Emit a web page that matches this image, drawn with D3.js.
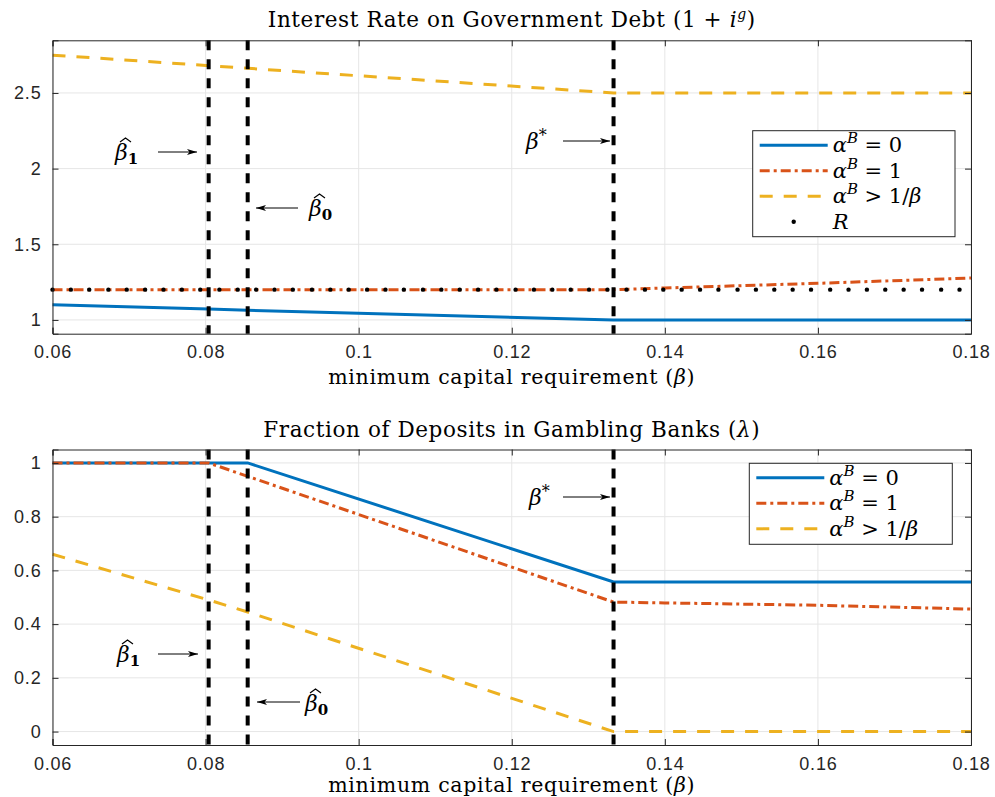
<!DOCTYPE html>
<html>
<head>
<meta charset="utf-8">
<script src="https://cdn.jsdelivr.net/npm/d3@7"></script>
<style>
  body { margin: 0; background: #fff; }
  svg { display: block; }
  .tick text { font-family: "Liberation Sans", Arial, sans-serif; font-size: 18px; letter-spacing: 0.8px; fill: #262626; }
  .serif { font-family: "DejaVu Serif", serif; fill: #000; }
</style>
</head>
<body>
<svg id="chart" width="995" height="797"></svg>
<script>
// thresholds
const betaHat1 = 0.0804;
const betaHat0 = 0.0855;
const betaStar = 0.1333;

const xTicks = [0.06, 0.08, 0.1, 0.12, 0.14, 0.16, 0.18];
const rateTicks = [1, 1.5, 2, 2.5];
const lambdaTicks = [0, 0.2, 0.4, 0.6, 0.8, 1];

// top panel: 1 + i^g
const rateA0Beta = [0.06, 0.0804, 0.0855, 0.1333, 0.18];
const rateA0 = [1.10, 1.072, 1.064, 1.0, 1.0];
const rateA1Beta = [0.06, 0.1333, 0.14, 0.16, 0.18];
const rateA1 = [1.2, 1.2, 1.211, 1.242, 1.277];
const rateBigBeta = [0.06, 0.1333, 0.18];
const rateBig = [2.75, 2.5, 2.5];
const rBeta = [0.0600, 0.0624, 0.0648, 0.0673, 0.0697, 0.0721, 0.0745, 0.0769, 0.0793, 0.0818,
  0.0842, 0.0866, 0.0890, 0.0914, 0.0939, 0.0963, 0.0987, 0.1011, 0.1035, 0.1059,
  0.1084, 0.1108, 0.1132, 0.1156, 0.1180, 0.1205, 0.1229, 0.1253, 0.1277, 0.1301,
  0.1325, 0.1350, 0.1374, 0.1398, 0.1422, 0.1446, 0.1470, 0.1495, 0.1519, 0.1543,
  0.1567, 0.1591, 0.1616, 0.1640, 0.1664, 0.1688, 0.1712, 0.1736, 0.1761, 0.1785];
const rValue = 1.2;

// bottom panel: lambda
const lamA0Beta = [0.06, 0.0855, 0.1333, 0.18];
const lamA0 = [1, 1, 0.557, 0.557];
const lamA1Beta = [0.06, 0.0804, 0.1333, 0.14, 0.16, 0.18];
const lamA1 = [1, 1, 0.482, 0.479, 0.470, 0.456];
const lamBigBeta = [0.06, 0.0804, 0.0855, 0.1333, 0.18];
const lamBig = [0.66, 0.49, 0.445, 0, 0];

const blue = "#0072BD", orange = "#D95319", yellow = "#EDB120";
const styles = {
  a0: { color: blue, dash: null },
  a1: { color: orange, dash: "10,4,3,4" },
  big: { color: yellow, dash: "13,11" }
};

const svg = d3.select("#chart");
svg.append("defs").append("marker")
  .attr("id", "arrow")
  .attr("viewBox", "0 0 10 6")
  .attr("refX", 10).attr("refY", 3)
  .attr("markerWidth", 10).attr("markerHeight", 6)
  .attr("markerUnits", "userSpaceOnUse")
  .attr("orient", "auto")
  .append("path").attr("d", "M0,0 L10,3 L0,6 L2.5,3 Z").attr("fill", "#000");

const x = d3.scaleLinear().domain([0.06, 0.18]).range([52.5, 971]);
const fmt = d => String(+d.toFixed(2));

// write text made of parts: {t, it, sup, sub, bold, size}
function rich(sel, parts, base) {
  let shift = 0;
  parts.forEach(p => {
    const want = p.sup ? -p.sup : p.sub ? p.sub : 0;
    const ts = sel.append("tspan").text(p.t).attr("dy", want - shift);
    shift = want;
    if (p.it) ts.attr("font-style", "italic");
    if (p.bold) ts.attr("font-weight", "bold");
    ts.attr("font-size", p.size || base);
  });
}

function hatBeta(g, px, py, sub) {
  const t = g.append("text").attr("class", "serif").attr("x", px).attr("y", py);
  rich(t, [{ t: "β", it: true }, { t: sub, bold: true, sub: 4, size: 15 }], 22);
  g.append("path")
    .attr("d", `M${px + 5},${py - 18} L${px + 10.5},${py - 22} L${px + 16},${py - 18}`)
    .attr("fill", "none").attr("stroke", "#000").attr("stroke-width", 1.2);
}

function starBeta(g, px, py) {
  const t = g.append("text").attr("class", "serif").attr("x", px).attr("y", py);
  rich(t, [{ t: "β", it: true }, { t: "*", sup: 8, size: 16 }], 22);
}

function arrow(g, x1, y1, x2, y2) {
  g.append("line").attr("x1", x1).attr("y1", y1).attr("x2", x2).attr("y2", y2)
    .attr("stroke", "#000").attr("stroke-width", 1).attr("marker-end", "url(#arrow)");
}

function panel(cfg) {
  const y = d3.scaleLinear().domain(cfg.yDomain).range([cfg.bottom, cfg.top]);
  const g = svg.append("g");
  const [xl, xr] = x.range();

  // grid
  g.append("g").selectAll("line").data(xTicks).join("line")
    .attr("x1", d => x(d)).attr("x2", d => x(d))
    .attr("y1", cfg.top).attr("y2", cfg.bottom)
    .attr("stroke", "#e6e6e6").attr("stroke-width", 1);
  g.append("g").selectAll("line").data(cfg.yTicks).join("line")
    .attr("x1", xl).attr("x2", xr)
    .attr("y1", d => y(d)).attr("y2", d => y(d))
    .attr("stroke", "#e6e6e6").attr("stroke-width", 1);

  // series
  const line = d3.line().x(d => x(d[0])).y(d => y(d[1]));
  cfg.series.forEach(s => {
    const st = styles[s.key];
    g.append("path")
      .datum(d3.zip(s.xs, s.ys))
      .attr("d", line)
      .attr("fill", "none")
      .attr("stroke", st.color)
      .attr("stroke-width", 3)
      .attr("stroke-dasharray", st.dash);
  });

  if (cfg.dots) {
    g.append("g").selectAll("circle").data(cfg.dots.xs).join("circle")
      .attr("cx", d => x(d)).attr("cy", y(cfg.dots.y)).attr("r", 2.2).attr("fill", "#000");
  }

  // threshold lines
  g.append("g").selectAll("line").data([betaHat1, betaHat0, betaStar]).join("line")
    .attr("x1", d => x(d)).attr("x2", d => x(d))
    .attr("y1", cfg.top).attr("y2", cfg.bottom)
    .attr("stroke", "#000").attr("stroke-width", 4).attr("stroke-dasharray", "10,9");

  // axes with inward ticks on all sides
  const axB = d3.axisBottom(x).tickValues(xTicks).tickFormat(fmt).tickSize(-6).tickPadding(12);
  const axT = d3.axisTop(x).tickValues(xTicks).tickFormat("").tickSize(-6);
  const axL = d3.axisLeft(y).tickValues(cfg.yTicks).tickFormat(fmt).tickSize(-6).tickPadding(11);
  const axR = d3.axisRight(y).tickValues(cfg.yTicks).tickFormat("").tickSize(-6);
  [[axB, `translate(0,${cfg.bottom})`], [axT, `translate(0,${cfg.top})`],
   [axL, `translate(${xl},0)`], [axR, `translate(${xr},0)`]].forEach(([ax, tr]) => {
    const a = g.append("g").attr("transform", tr).call(ax);
    a.select(".domain").attr("stroke", "#262626");
    a.selectAll(".tick line").attr("stroke", "#262626");
  });

  // title and x label
  const title = g.append("text").attr("class", "serif").attr("text-anchor", "middle")
    .attr("letter-spacing", 0.6)
    .attr("x", (xl + xr) / 2).attr("y", cfg.top - 13);
  rich(title, cfg.title, 21.5);
  const xlab = g.append("text").attr("class", "serif").attr("text-anchor", "middle")
    .attr("letter-spacing", 0.7)
    .attr("x", (xl + xr) / 2).attr("y", cfg.bottom + cfg.xlabGap);
  rich(xlab, [{ t: "minimum capital requirement (" }, { t: "β", it: true }, { t: ")" }], 20.5);

  // legend
  const L = cfg.legend;
  const lg = g.append("g");
  lg.append("rect").attr("x", L.x).attr("y", L.y).attr("width", L.w).attr("height", L.h)
    .attr("fill", "#fff").attr("stroke", "#262626").attr("stroke-width", 1);
  L.items.forEach((it, i) => {
    const cy = L.y + 14.5 + i * 25.5;
    if (it.key) {
      const st = styles[it.key];
      lg.append("line").attr("x1", L.x + 7).attr("x2", L.x + 75).attr("y1", cy).attr("y2", cy)
        .attr("stroke", st.color).attr("stroke-width", 3).attr("stroke-dasharray", st.dash);
    } else {
      lg.append("circle").attr("cx", L.x + 41).attr("cy", cy).attr("r", 2.2).attr("fill", "#000");
    }
    const t = lg.append("text").attr("class", "serif").attr("x", L.x + 80).attr("y", cy + 7);
    rich(t, it.label, 21);
  });

  // annotations
  cfg.notes(g, y);
}

const alphaLabel = rest => [{ t: "α", it: true }, { t: "B", it: true, sup: 9, size: 15 }, { t: rest }];
const legendItems = [
  { key: "a0", label: alphaLabel(" = 0") },
  { key: "a1", label: alphaLabel(" = 1") },
  { key: "big", label: [{ t: "α", it: true }, { t: "B", it: true, sup: 9, size: 15 }, { t: " > 1/" }, { t: "β", it: true }] }
];

panel({
  top: 40.3, bottom: 333.7, yDomain: [0.909, 2.848], yTicks: rateTicks, xlabGap: 50,
  title: [{ t: "Interest Rate on Government Debt (1 + " }, { t: "i", it: true }, { t: "g", it: true, sup: 8, size: 14 }, { t: ")" }],
  series: [
    { key: "a0", xs: rateA0Beta, ys: rateA0 },
    { key: "a1", xs: rateA1Beta, ys: rateA1 },
    { key: "big", xs: rateBigBeta, ys: rateBig }
  ],
  dots: { xs: rBeta, y: rValue },
  legend: { x: 752.7, y: 130.7, w: 202.3, h: 106, items: legendItems.concat([{ key: null, label: [{ t: "R", it: true }] }]) },
  notes: (g, y) => {
    hatBeta(g, 115, 160, "1");
    arrow(g, 158, 152, 197, 152);
    hatBeta(g, 309, 216, "0");
    arrow(g, 298, 208, 256, 208);
    starBeta(g, 526, 149);
    arrow(g, 563, 141, 610, 141);
  }
});

panel({
  top: 449.5, bottom: 745, yDomain: [-0.05, 1.05], yTicks: lambdaTicks, xlabGap: 47,
  title: [{ t: "Fraction of Deposits in Gambling Banks (" }, { t: "λ", it: true }, { t: ")" }],
  series: [
    { key: "a0", xs: lamA0Beta, ys: lamA0 },
    { key: "a1", xs: lamA1Beta, ys: lamA1 },
    { key: "big", xs: lamBigBeta, ys: lamBig }
  ],
  legend: { x: 749.3, y: 463.3, w: 203, h: 81, items: legendItems },
  notes: (g, y) => {
    hatBeta(g, 117, 662, "1");
    arrow(g, 158, 654, 198, 654);
    hatBeta(g, 305, 711, "0");
    arrow(g, 300, 702, 257, 702);
    starBeta(g, 529, 505);
    arrow(g, 563, 497, 610, 497);
  }
});
</script>
</body>
</html>
